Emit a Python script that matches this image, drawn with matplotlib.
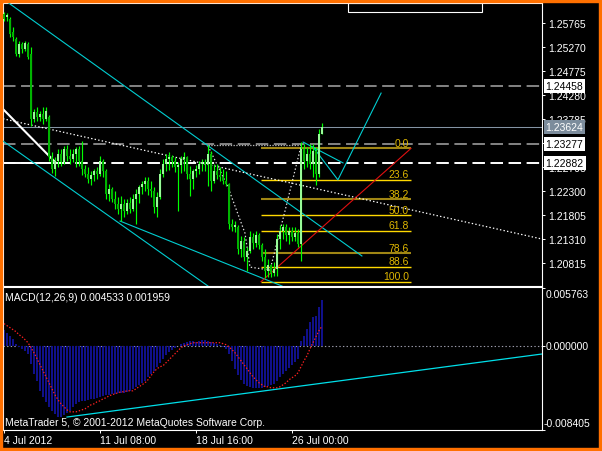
import matplotlib
matplotlib.use("Agg")
import matplotlib.pyplot as plt
from matplotlib.patches import Rectangle
from matplotlib.transforms import blended_transform_factory as blend

plt.rcParams['font.family'] = ['Liberation Sans', 'DejaVu Sans']
plt.rcParams['lines.scale_dashes'] = False

# ---------------- data (EURUSD H4) ----------------
opens = [1.2595,1.2589,1.2585,1.2558,1.2544,1.2513,1.2533,1.2523,1.2533,1.2513,
         1.2379,1.2393,1.2383,1.2389,1.2379,1.2383,1.2300,1.2275,1.2292,1.2306,
         1.2290,1.2317,1.2302,1.2296,1.2306,1.2317,1.2292,1.2275,1.2265,1.2255,
         1.2263,1.2271,1.2265,1.2292,1.2271,1.2224,1.2234,1.2214,1.2203,1.2193,
         1.2203,1.2189,1.2205,1.2193,1.2214,1.2224,1.2238,1.2244,1.2251,1.2234,
         1.2230,1.2197,1.2218,1.2265,1.2286,1.2296,1.2300,1.2292,1.2280,1.2284,
         1.2296,1.2300,1.2265,1.2255,1.2271,1.2275,1.2286,1.2290,1.2286,1.2306,
         1.2251,1.2271,1.2263,1.2259,1.2251,1.2244,1.2162,1.2156,1.2156,1.2110,
         1.2127,1.2094,1.2106,1.2135,1.2123,1.2139,1.2119,1.2094,1.2065,1.2077,
         1.2061,1.2069,1.2131,1.2148,1.2156,1.2139,1.2148,1.2135,1.2143,1.2121,
         1.2317,1.2292,1.2306,1.2286,1.2313,1.2265,1.2348]
highs = [1.2599,1.2597,1.2589,1.2568,1.2548,1.2539,1.2537,1.2539,1.2537,1.2527,
         1.2399,1.2404,1.2395,1.2404,1.2404,1.2387,1.2310,1.2300,1.2317,1.2317,
         1.2323,1.2325,1.2317,1.2317,1.2321,1.2323,1.2333,1.2284,1.2280,1.2271,
         1.2275,1.2280,1.2302,1.2296,1.2275,1.2244,1.2238,1.2230,1.2218,1.2220,
         1.2214,1.2214,1.2218,1.2224,1.2234,1.2242,1.2251,1.2259,1.2259,1.2251,
         1.2238,1.2228,1.2275,1.2296,1.2306,1.2310,1.2304,1.2300,1.2290,1.2302,
         1.2310,1.2302,1.2282,1.2275,1.2284,1.2292,1.2296,1.2296,1.2325,1.2313,
         1.2286,1.2286,1.2280,1.2275,1.2271,1.2247,1.2172,1.2168,1.2160,1.2137,
         1.2135,1.2115,1.2148,1.2143,1.2148,1.2143,1.2123,1.2110,1.2090,1.2079,
         1.2084,1.2141,1.2160,1.2162,1.2162,1.2156,1.2156,1.2156,1.2152,1.2331,
         1.2327,1.2321,1.2327,1.2327,1.2321,1.2358,1.2370]
lows = [1.2581,1.2581,1.2548,1.2539,1.2508,1.2506,1.2515,1.2519,1.2502,1.2364,
        1.2373,1.2375,1.2375,1.2369,1.2375,1.2292,1.2267,1.2261,1.2280,1.2282,
        1.2286,1.2292,1.2286,1.2290,1.2280,1.2282,1.2263,1.2259,1.2247,1.2242,
        1.2251,1.2255,1.2261,1.2259,1.2214,1.2209,1.2207,1.2193,1.2183,1.2168,
        1.2176,1.2183,1.2185,1.2189,1.2162,1.2205,1.2224,1.2230,1.2222,1.2218,
        1.2185,1.2176,1.2214,1.2259,1.2271,1.2273,1.2280,1.2269,1.2189,1.2267,
        1.2271,1.2255,1.2220,1.2234,1.2259,1.2265,1.2271,1.2271,1.2240,1.2230,
        1.2247,1.2255,1.2251,1.2244,1.2240,1.2152,1.2148,1.2145,1.2100,1.2094,
        1.2086,1.2065,1.2102,1.2110,1.2115,1.2110,1.2086,1.2051,1.2053,1.2053,
        1.2055,1.2055,1.2110,1.2131,1.2127,1.2121,1.2127,1.2127,1.2115,1.2086,
        1.2275,1.2280,1.2275,1.2259,1.2242,1.2259,1.2348]
closes = [1.2585,1.2593,1.2554,1.2548,1.2513,1.2533,1.2523,1.2535,1.2506,1.2379,
          1.2393,1.2383,1.2389,1.2379,1.2395,1.2300,1.2275,1.2292,1.2306,1.2290,
          1.2317,1.2302,1.2296,1.2306,1.2317,1.2292,1.2275,1.2265,1.2255,1.2263,
          1.2271,1.2265,1.2292,1.2271,1.2224,1.2234,1.2214,1.2203,1.2193,1.2203,
          1.2189,1.2205,1.2193,1.2214,1.2224,1.2238,1.2244,1.2251,1.2234,1.2230,
          1.2197,1.2218,1.2265,1.2286,1.2296,1.2300,1.2292,1.2280,1.2284,1.2296,
          1.2300,1.2265,1.2255,1.2271,1.2275,1.2286,1.2290,1.2286,1.2306,1.2251,
          1.2271,1.2263,1.2259,1.2251,1.2244,1.2162,1.2156,1.2160,1.2110,1.2127,
          1.2094,1.2106,1.2135,1.2123,1.2139,1.2119,1.2094,1.2065,1.2077,1.2061,
          1.2069,1.2131,1.2148,1.2156,1.2139,1.2148,1.2135,1.2143,1.2121,1.2317,
          1.2292,1.2306,1.2286,1.2313,1.2265,1.2348,1.23624]

# MACD main (histogram) and signal, in units of 1e-3
macd_main = [1.6,1.3,1.0,0.7, 0.2,-0.1,-0.3,-0.5,-0.8, -1.8,-2.8,-3.5,
             -4.5,-5.1,-5.6,-6.1, -6.5,-6.8,-7.1,-7.1,-6.9,-6.7, -6.5,-6.1,-5.8,-5.6,
             -5.5,-5.5,-5.4,-5.3,-5.3,-5.2,-5.1,
             -5.0,-4.9,-4.9,-4.8,-4.8,-4.7,-4.7,-4.7,-4.6,-4.5,
             -4.3,-4.1,-3.9,-3.7,-3.5,-3.1, -2.8,-2.5,-2.1,-1.7,-1.3,-0.9,
             -0.6,-0.4,-0.2,0.0,0.2,0.3,
             0.4,0.5,0.5,0.4,0.5,0.6,0.6,0.5,0.4,0.3,0.2,0.1,-0.1,-0.3,
             -0.8,-1.5,-2.3,-2.9,-3.4,-3.8,-4.0,
             -4.1,-4.2,-4.2,-4.2,-4.2,-4.1,-4.0,
             -3.9,-3.8,-3.5,-3.1,-2.8,-2.5,-2.2,-1.9,-1.6,-1.3,
             0.5,1.0,1.7,2.4,2.9,3.0,3.9,4.533]
macd_signal = [2.2,2.0,1.8,1.6,1.4,1.1,0.9,0.6,0.3,
               -0.2,-0.7,-1.3,-1.9,-2.5,-3.1,-3.7,-4.3,-4.9,
               -5.4,-5.8,-6.1,-6.4,-6.6,
               -6.6,-6.6,-6.5,-6.4,-6.3,
               -6.1,-5.9,-5.8,-5.6,-5.5,
               -5.3,-5.2,-5.0,-4.9,-4.8,-4.7,-4.6,-4.6,-4.5,-4.5,
               -4.5,-4.3,-4.1,-3.9,-3.7,-3.4,
               -3.0,-2.6,-2.3,-2.1,-2.0,-1.7,
               -1.4,-1.1,-0.8,-0.5,-0.2,0.0,
               0.1,0.2,
               0.3,0.3,0.3,0.3,0.3,0.3,0.3,0.3,0.3,0.3,
               0.2,0.1,
               -0.1,-0.4,-0.7,-1.1,-1.5,-1.9,-2.3,-2.7,-3.1,-3.4,-3.7,-3.9,-4.1,-4.1,
               -4.2,-4.2,-4.2,-4.1,-3.9,-3.7,-3.4,-3.2,-3.0,-2.7,
               -2.1,-1.5,-1.0,-0.3,0.3,0.9,1.5,1.959]

time_labels = ['4 Jul 2012', '11 Jul 08:00', '18 Jul 16:00', '26 Jul 00:00']
time_label_bars = [0, 32, 64, 96]
price_ticks = [1.25765, 1.25270, 1.24775, 1.24280, 1.23785, 1.23290,
               1.22795, 1.22300, 1.21805, 1.21310, 1.20815]

level_prices = [1.24458, 1.23624, 1.23277, 1.22882]
level_colors = ['#a8a8a8', '#8494a4', '#a8a8a8', '#ffffff']
level_dashed = [True, False, True, True]
level_widths = [1.1, 0.75, 1.1, 1.4]
level_box_bg = ['#ffffff', '#7c8c9c', '#ffffff', '#ffffff']
level_box_fg = ['#000000', '#ffffff', '#000000', '#000000']

fib_levels = [0.0, 23.6, 38.2, 50.0, 61.8, 78.6, 88.6, 100.0]
fib_colors = ['#a08614', '#ffd800', '#a08614', '#ffd800', '#ffd800', '#a08614', '#ffd800', '#ffd800']
fib_widths = [1.5, 1.0, 1.5, 1.0, 1.0, 1.5, 1.0, 1.0]
fib_high, fib_low = 1.23181, 1.20429
fib_x0, fib_x1 = 85.67, 135.67

# drawn objects: (bar index, price)
cyan_lines = [
    [(1.5, 1.2618), (119.3, 1.2096)],
    [(-0.33, 1.2333), (68.0, 1.2034)],
    [(38.7, 1.2168), (92.7, 1.2034)],
    [(99.7, 1.2331), (113.0, 1.2288)],
    [(103.0, 1.2321), (111.3, 1.2253), (125.7, 1.2432)],
]
white_thick = [(-0.33, 1.2399), (17.0, 1.2290)]
white_level_seg = [(-0.33, 1.22882), (22.0, 1.22882)]
white_dotted = [(-0.33, 1.2379), (179.3, 1.2131)]
gray_dotted = [(68.0, 1.2325), (99.0, 1.2325)]
zigzag = [(68.0, 1.2323), (74.67, 1.2238), (80.33, 1.2143), (82.0, 1.2073),
          (88.67, 1.2067), (93.67, 1.2189), (99.33, 1.2331)]
red_line = [(85.67, 1.2043), (135.67, 1.2318)]
macd_trend = [(21.0, -0.00712), (179.3, -0.00083)]
macd_ticks = [0.005763, 0.0, -0.008405]

# ---------------- layout ----------------
W, H = 602, 452
fig = plt.figure(figsize=(W / 100, H / 100), dpi=100, facecolor='black')


def fx(px):
    return px / W


def fy(py):
    return 1 - py / H


ax = fig.add_axes([fx(3), fy(287), fx(542) - fx(3), fy(4) - fy(287)])
ax2 = fig.add_axes([fx(3), fy(431), fx(542) - fx(3), fy(288) - fy(431)])
for a in (ax, ax2):
    a.set_facecolor('black')
    for s in a.spines.values():
        s.set_color('white')
        s.set_linewidth(0.8)
    a.set_xlim(-1 / 3, 179.333)

ax.set_ylim(1.20341, 1.26178)
ax2.set_ylim(-0.008413, 0.005858)

FS = 7.5
# price axis (a label hidden behind a level box in the original is left blank)
ax.yaxis.tick_right()
ax.set_yticks(price_ticks)
ax.set_yticklabels(['' if min(abs(t - p) for p in level_prices) < 0.0002 else f'{t:.5f}'
                    for t in price_ticks])
ax.tick_params(axis='y', colors='white', labelcolor='white', labelsize=FS,
               length=2.4, width=0.7, pad=2, direction='out')
ax.set_xticks([])

# level lines
for p, c, d, w in zip(level_prices, level_colors, level_dashed, level_widths):
    if d:
        ax.axhline(p, color=c, lw=w, dashes=(9.0, 4.0), zorder=1)
    else:
        ax.axhline(p, color=c, lw=w, zorder=1)
ax.plot(*zip(*white_level_seg), color='white', lw=1.4, zorder=1)

# fibonacci
for r, c, w in zip(fib_levels, fib_colors, fib_widths):
    p = fib_high - r / 100.0 * (fib_high - fib_low)
    ax.plot([fib_x0, fib_x1], [p, p], color=c, lw=w, zorder=2, solid_capstyle='butt')
    ax.annotate(f'{r:.1f}', (fib_x1 - 0.7, p), xytext=(0, 1.8), textcoords='offset points',
                ha='right', va='baseline', fontsize=FS, color='#e0b800', zorder=4)

# trend objects
for ln in cyan_lines:
    ax.plot(*zip(*ln), color='#00ced1', lw=0.8, zorder=3)
ax.plot(*zip(*white_thick), color='white', lw=1.5, zorder=3)
ax.plot(*zip(*white_dotted), color='white', lw=0.9, dashes=(1.0, 1.6), zorder=3)
ax.plot(*zip(*gray_dotted), color='#b0b0b0', lw=0.9, dashes=(1.0, 1.0), zorder=3)
ax.plot(*zip(*zigzag), color='#e0e0e0', lw=0.9, dashes=(1.0, 1.6), zorder=3)
ax.plot(*zip(*red_line), color='#e01010', lw=0.8, zorder=3)

# candles
xs = list(range(len(opens)))
ax.vlines(xs, lows, highs, color='#00ff00', lw=0.85, zorder=5)
bottoms = [min(o, c) for o, c in zip(opens, closes)]
heights = [max(abs(c - o), 0.00005) for o, c in zip(opens, closes)]
body_cols = ['#98fb98' if c >= o else '#00b400' for o, c in zip(opens, closes)]
ax.bar(xs, heights, bottom=bottoms, width=0.72, color=body_cols, linewidth=0, zorder=6)

# price boxes on the axis
tr = blend(ax.transAxes, ax.transData)
for p, bg, fg in zip(level_prices, level_box_bg, level_box_fg):
    ax.text(1.0068, p, f'{p:.5f}', transform=tr, ha='left', va='center', fontsize=FS,
            color=fg, bbox=dict(boxstyle='square,pad=0.2', fc=bg, ec='none'),
            zorder=20, clip_on=False)

# top panel box
fig.add_artist(Rectangle((fx(348), fy(13)), fx(482) - fx(348), fy(4) - fy(13),
                         transform=fig.transFigure, fill=False, ec='white', lw=0.8))

# ---------------- MACD ----------------
ax2.bar(xs, [v * 1e-3 for v in macd_main], width=0.45, color='#10108a', linewidth=0, zorder=2)
ax2.plot(xs, [v * 1e-3 for v in macd_signal], color='#ff2020', lw=0.9, dashes=(1.0, 1.3), zorder=3)
ax2.axhline(0, color='#9a9aaa', lw=0.8, dashes=(1.0, 1.6), zorder=1)
ax2.plot(*zip(*macd_trend), color='#00e0ea', lw=0.9, zorder=4)

ax2.yaxis.tick_right()
ax2.set_yticks(macd_ticks)
ax2.set_yticklabels([''] * len(macd_ticks))
ax2.tick_params(axis='y', colors='white', length=2.4, width=0.7, direction='out')
tr2 = blend(ax2.transAxes, ax2.transData)
ax2.annotate(f'{macd_ticks[0]:.6f}', (1.0068, macd_ticks[0]), xycoords=tr2, xytext=(0, -1.0),
             textcoords='offset points', ha='left', va='top', fontsize=FS, color='white')
ax2.annotate(f'{macd_ticks[1]:.6f}', (1.0068, macd_ticks[1]), xycoords=tr2,
             ha='left', va='center', fontsize=FS, color='white')
ax2.annotate(f'{macd_ticks[2]:.6f}', (1.0030, macd_ticks[2]), xycoords=tr2, xytext=(0, 2.5),
             textcoords='offset points', ha='left', va='baseline', fontsize=FS, color='white')

ax2.set_xticks(time_label_bars)
ax2.set_xticklabels(time_labels)
ax2.tick_params(axis='x', colors='white', labelcolor='white', labelsize=FS,
                length=2.4, width=0.7, pad=1.5, direction='out')
for lbl in ax2.get_xticklabels():
    lbl.set_ha('left')

fig.text(fx(5), fy(298), 'MACD(12,26,9) 0.004533 0.001959', ha='left', va='center',
         fontsize=FS, color='white')
fig.text(fx(5), fy(423), 'MetaTrader 5, \u00a9 2001-2012 MetaQuotes Software Corp.',
         ha='left', va='center', fontsize=FS, color='white')

# window border
orange = '#ff7000'
fig.add_artist(Rectangle((0, fy(3)), 1, 3 / H, transform=fig.transFigure, color=orange))
fig.add_artist(Rectangle((0, 0), 1, 3 / H, transform=fig.transFigure, color=orange))
fig.add_artist(Rectangle((0, 0), 2 / W, 1, transform=fig.transFigure, color=orange))
fig.add_artist(Rectangle((fx(599), 0), 3 / W, 1, transform=fig.transFigure, color=orange))

fig.savefig('out.png', dpi=100, facecolor='black')
